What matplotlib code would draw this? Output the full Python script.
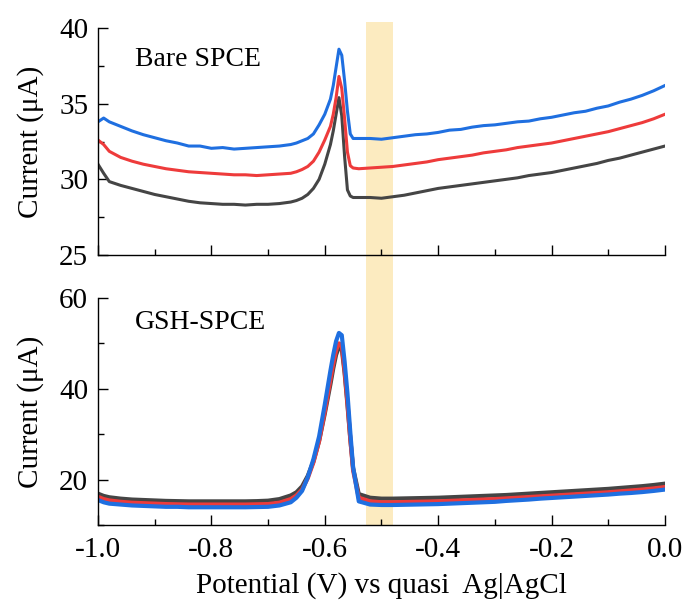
import matplotlib
matplotlib.use("Agg")
import matplotlib.pyplot as plt
from matplotlib.patches import Rectangle
from matplotlib.transforms import blended_transform_factory
from matplotlib.ticker import MultipleLocator

plt.rcParams['font.family'] = ['Liberation Serif', 'DejaVu Serif']
plt.rcParams['axes.unicode_minus'] = False

# potential (V)
potential = [-1.00, -0.99, -0.98, -0.96, -0.94, -0.92, -0.90, -0.88, -0.86, -0.84,
             -0.82, -0.80, -0.78, -0.76, -0.74, -0.72, -0.70, -0.68, -0.66, -0.65,
             -0.64, -0.63, -0.62, -0.61, -0.60, -0.59, -0.585, -0.58, -0.575, -0.57,
             -0.565, -0.56, -0.555, -0.55, -0.54, -0.52, -0.50, -0.48, -0.46, -0.44,
             -0.42, -0.40, -0.38, -0.36, -0.34, -0.32, -0.30, -0.28, -0.26, -0.24,
             -0.22, -0.20, -0.18, -0.16, -0.14, -0.12, -0.10, -0.08, -0.06, -0.04,
             -0.02, 0.00]

# Bare SPCE currents (uA)
bare_blue = [33.8, 34.05, 33.8, 33.5, 33.2, 32.95, 32.75, 32.55, 32.4, 32.2,
             32.2, 32.05, 32.1, 32.0, 32.05, 32.1, 32.15, 32.2, 32.3, 32.4,
             32.55, 32.7, 33.0, 33.6, 34.3, 35.3, 36.2, 37.4, 38.6, 38.2,
             36.5, 34.5, 33.0, 32.7, 32.7, 32.7, 32.65, 32.75, 32.85, 32.95,
             33.0, 33.1, 33.25, 33.3, 33.45, 33.55, 33.6, 33.7, 33.8, 33.85,
             34.0, 34.1, 34.25, 34.4, 34.5, 34.7, 34.85, 35.1, 35.3, 35.55,
             35.85, 36.2]
bare_red = [32.6, 32.3, 31.85, 31.45, 31.2, 31.0, 30.85, 30.7, 30.6, 30.5,
            30.45, 30.4, 30.35, 30.3, 30.3, 30.25, 30.3, 30.35, 30.4, 30.5,
            30.65, 30.85, 31.2, 31.8, 32.6, 33.5, 34.3, 35.4, 36.8, 36.0,
            34.0, 31.8, 30.9, 30.75, 30.7, 30.75, 30.8, 30.85, 30.95, 31.05,
            31.15, 31.3, 31.4, 31.5, 31.6, 31.75, 31.85, 31.95, 32.1, 32.2,
            32.3, 32.4, 32.55, 32.7, 32.85, 33.0, 33.15, 33.35, 33.55, 33.75,
            34.0, 34.3]
bare_gray = [31.0, 30.4, 29.85, 29.6, 29.4, 29.2, 29.0, 28.85, 28.7, 28.55,
             28.45, 28.4, 28.35, 28.35, 28.3, 28.35, 28.35, 28.4, 28.5, 28.6,
             28.75, 29.0, 29.4, 30.0, 31.0, 32.3, 33.2, 34.3, 35.4, 34.2,
             31.5, 29.3, 28.9, 28.8, 28.8, 28.8, 28.75, 28.85, 28.95, 29.1,
             29.25, 29.4, 29.5, 29.6, 29.7, 29.8, 29.9, 30.0, 30.1, 30.25,
             30.35, 30.45, 30.6, 30.75, 30.9, 31.05, 31.25, 31.4, 31.6, 31.8,
             32.0, 32.2]

# GSH-SPCE currents (uA)
gsh_blue = [15.5, 15.0, 14.7, 14.5, 14.3, 14.2, 14.1, 14.0, 14.0, 13.9,
            13.9, 13.9, 13.9, 13.9, 13.9, 13.95, 14.0, 14.3, 15.0, 16.0,
            17.5, 20.5, 24.5, 29.5, 36.5, 44.0, 47.5, 50.5, 52.3, 51.8,
            46.0, 39.0, 30.5, 22.7, 15.2, 14.5, 14.4, 14.4, 14.45, 14.5,
            14.55, 14.6, 14.7, 14.8, 14.9, 15.0, 15.1, 15.3, 15.45, 15.6,
            15.8, 15.95, 16.1, 16.25, 16.4, 16.55, 16.7, 16.9, 17.05, 17.25,
            17.5, 17.8]
gsh_red = [16.2, 15.7, 15.4, 15.1, 14.9, 14.8, 14.7, 14.6, 14.55, 14.5,
           14.5, 14.5, 14.5, 14.5, 14.5, 14.55, 14.6, 14.9, 15.7, 16.5,
           17.8, 20.3, 23.8, 28.5, 35.0, 42.0, 45.5, 48.5, 50.0, 49.6,
           44.0, 37.0, 29.0, 22.0, 16.0, 15.2, 15.0, 15.0, 15.05, 15.1,
           15.15, 15.2, 15.3, 15.4, 15.5, 15.6, 15.7, 15.85, 16.0, 16.15,
           16.3, 16.45, 16.6, 16.75, 16.9, 17.05, 17.2, 17.4, 17.6, 17.8,
           18.05, 18.35]
gsh_gray = [16.9, 16.4, 16.1, 15.8, 15.6, 15.5, 15.4, 15.3, 15.25, 15.2,
            15.2, 15.2, 15.2, 15.2, 15.2, 15.25, 15.35, 15.7, 16.5, 17.2,
            18.5, 20.8, 24.0, 28.5, 34.5, 41.0, 44.5, 47.5, 49.2, 48.8,
            43.5, 36.5, 29.0, 22.5, 16.8, 16.0, 15.8, 15.8, 15.85, 15.9,
            15.95, 16.0, 16.1, 16.2, 16.3, 16.4, 16.5, 16.6, 16.75, 16.9,
            17.05, 17.2, 17.35, 17.5, 17.65, 17.8, 17.95, 18.15, 18.35, 18.55,
            18.8, 19.1]

band = (-0.528, -0.479)

c_blue = '#1f6fe0'
c_red = '#ee3b3b'
c_gray = '#454545'

fig = plt.figure(figsize=(6.88, 6.01), dpi=100)
ax1 = fig.add_axes([0.1424, 0.5757, 0.8241, 0.3777])
ax2 = fig.add_axes([0.1424, 0.1265, 0.8241, 0.3777])

ax1.plot(potential, bare_gray, color=c_gray, lw=2.2)
ax1.plot(potential, bare_red, color=c_red, lw=2.2)
ax1.plot(potential, bare_blue, color=c_blue, lw=2.2)

ax2.plot(potential, gsh_gray, color=c_gray, lw=3)
ax2.plot(potential, gsh_red, color=c_red, lw=3)
ax2.plot(potential, gsh_blue, color=c_blue, lw=3)

ax1.set_ylim(25, 40)
ax1.yaxis.set_major_locator(MultipleLocator(5))
ax1.yaxis.set_minor_locator(MultipleLocator(2.5))
ax2.set_ylim(10, 60)
ax2.yaxis.set_major_locator(MultipleLocator(20))
ax2.yaxis.set_minor_locator(MultipleLocator(10))

for ax in (ax1, ax2):
    ax.set_xlim(-1.0, 0.0)
    ax.xaxis.set_major_locator(MultipleLocator(0.2))
    ax.xaxis.set_minor_locator(MultipleLocator(0.1))
    ax.set_facecolor('none')
    for s in ('top', 'right'):
        ax.spines[s].set_visible(False)
    for s in ('left', 'bottom'):
        ax.spines[s].set_linewidth(1.0)
    ax.tick_params(which='major', direction='in', length=7, width=1.0, labelsize=21, pad=7)
    ax.tick_params(which='minor', direction='in', length=4, width=1.0)
    ax.tick_params(axis='x', which='major', pad=9)
    ax.set_ylabel('Current (μA)', fontsize=21)
    ax.yaxis.set_label_coords(-0.095, 0.5)

ax1.tick_params(axis='x', labelbottom=False)
ax2.xaxis.set_major_formatter(matplotlib.ticker.FormatStrFormatter('%.1f'))
ax2.set_xlabel('Potential (V) vs quasi  Ag|AgCl', fontsize=21, labelpad=6)

ax1.text(-0.935, 37.9, 'Bare SPCE', fontsize=20, va='center', ha='left')
ax2.text(-0.935, 54.7, 'GSH-SPCE', fontsize=20, va='center', ha='left')

# highlight band across both panels
tr = blended_transform_factory(ax2.transData, fig.transFigure)
fig.patches.append(Rectangle((band[0], 0.1265), band[1] - band[0], 0.837,
                             transform=tr, facecolor='#fcebc0', edgecolor='none',
                             zorder=-1, figure=fig))

fig.savefig('out.png', dpi=100)
